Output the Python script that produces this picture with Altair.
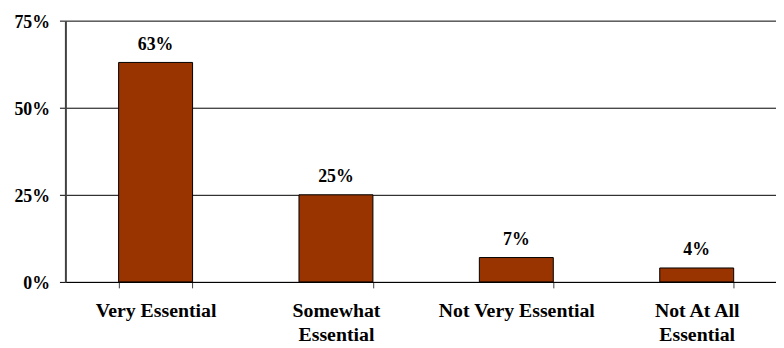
import altair as alt
import pandas as pd

categories = ["Very Essential", "Somewhat|Essential", "Not Very Essential", "Not At All|Essential"]
values = [63, 25, 7, 4]
y_ticks = [0, 25, 50, 75]

df = pd.DataFrame({"cat": categories, "val": values})
df["lab"] = [f"{v}%" for v in values]

FONT = "Liberation Serif"

x_enc = alt.X(
    "cat:N", sort=None, title=None,
    scale=alt.Scale(paddingInner=0.59, paddingOuter=0.295),
    axis=alt.Axis(
        labelAngle=0, labelFont=FONT, labelFontSize=20, labelFontWeight="bold",
        labelColor="black", labelExpr="split(datum.label, '|')", labelLineHeight=24.5,
        labelBaseline="top", labelPadding=13, tickBand="extent", tickSize=6,
        tickColor="#404040", domainColor="black", labelLimit=300,
    ),
)
y_enc = alt.Y(
    "val:Q", title=None,
    scale=alt.Scale(domain=[0, 75], nice=False),
    axis=alt.Axis(
        values=y_ticks, labelExpr="datum.value + '%'", labelFont=FONT,
        labelFontSize=18, labelFontWeight="bold", labelColor="black",
        labelPadding=10, labelOffset=2, tickSize=6, tickColor="black",
        domainColor="#404040", gridColor="black", gridOpacity=1, grid=True,
    ),
)

bars = alt.Chart(df).mark_bar(color="#993300", stroke="black", strokeWidth=1).encode(x=x_enc, y=y_enc)
text = alt.Chart(df).mark_text(
    baseline="alphabetic", dy=-13, font=FONT, fontSize=18, fontWeight="bold", color="black"
).encode(x=alt.X("cat:N", sort=None), y="val:Q", text="lab:N")

chart = (bars + text).properties(
    width=729, height=264,
    autosize=alt.AutoSizeParams(type="none"),
    padding={"left": 58, "top": 11, "right": -11, "bottom": 65},
).configure_view(stroke=None).configure_axisY(domainWidth=2)

chart.save("out.html", embed_options={"renderer": "svg", "actions": False})
